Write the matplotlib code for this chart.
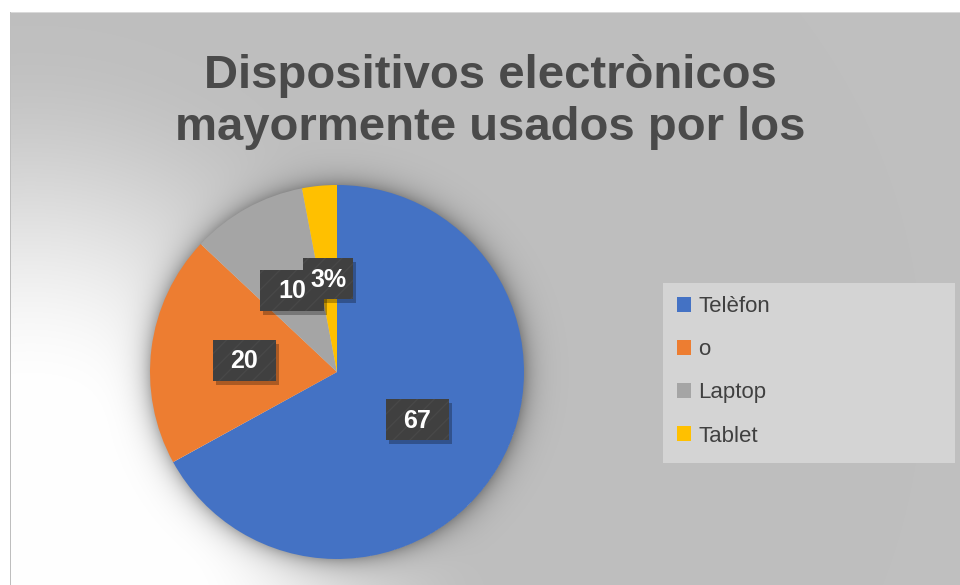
import numpy as np
import matplotlib.pyplot as plt
from matplotlib.patches import Rectangle

plt.rcParams['font.family'] = ['Liberation Sans', 'DejaVu Sans']

title = "Dispositivos electrònicos\nmayormente usados por los"
devices = ["Telèfon", "o", "Laptop", "Tablet"]
shares = [67, 20, 10, 3]
point_labels = ["67", "20", "10", "3%"]
colors = ["#4472C4", "#ED7D31", "#A5A5A5", "#FFC000"]

W, H = 960, 585
fig = plt.figure(figsize=(9.6, 5.85), dpi=100)

# background: gray chart area with a white glow at bottom-left + soft pie shadow
cx, cy, R = 337, 372, 187
yy, xx = np.mgrid[0:H, 0:W]
t = np.clip((np.hypot(xx - 30, (yy - 600) * 0.8) - 160) / 300, 0, 1)
t = t * t * (3 - 2 * t)
g = 255 - (255 - 191) * t
dp = np.hypot(xx - cx, yy - cy)
shade = np.where(dp > R - 1, 0.3 * np.exp(-np.clip(dp - R, 0, None) / 11), 0)
g = g * (1 - shade)
g[:13, :] = 255
g[:, :10] = 255
g[12, 10:] = 217
g[12:, 10] = 190
img = np.dstack([g, g, g]) / 255

bg = fig.add_axes([0, 0, 1, 1])
bg.imshow(img, extent=(0, W, H, 0), interpolation='bilinear', aspect='auto')
bg.set_xlim(0, W)
bg.set_ylim(H, 0)
bg.axis('off')

# legend panel
bg.add_patch(Rectangle((663, 283), 292, 180, facecolor='#d4d4d4', edgecolor='none'))

# pie
ax = fig.add_axes([(cx - R) / W, (H - cy - R) / H, 2 * R / W, 2 * R / H])
wedges, _ = ax.pie(shares, colors=colors, startangle=90, counterclock=False,
                   radius=1, wedgeprops=dict(linewidth=0))
ax.set_xlim(-1, 1)
ax.set_ylim(-1, 1)

fig.canvas.draw()
renderer = fig.canvas.get_renderer()
px = ax.transData.transform((1, 0))[0] - ax.transData.transform((0, 0))[0]

for w, lab, v in zip(wedges, point_labels, shares):
    ang = np.deg2rad((w.theta1 + w.theta2) / 2)
    x, y = 0.5 * np.cos(ang), 0.5 * np.sin(ang)
    # box is sized for the full "NN%" text, as in the original
    tmp = ax.text(0, 0, f"{v}%", fontsize=17, weight='bold')
    tw = tmp.get_window_extent(renderer).width
    tmp.remove()
    bw, bh = (tw + 16) / px, 41 / px
    ax.add_patch(Rectangle((x - bw / 2 + 3 / px, y - bh / 2 - 4 / px), bw, bh,
                           facecolor='black', alpha=0.28, edgecolor='none', zorder=3))
    ax.add_patch(Rectangle((x - bw / 2, y - bh / 2), bw, bh, facecolor='#404040',
                           edgecolor='#484848', hatch='//', linewidth=0, zorder=4))
    ax.text(x, y - 1 / px, lab, fontsize=18, weight='bold', color='white',
            ha='center', va='center', zorder=5)

fig.text(490 / W, 1 - 102 / H, title, ha='center', va='center', fontsize=34,
         weight='bold', color='#4a4a4a', linespacing=1.25)

fig.legend(wedges, devices, loc='upper left', bbox_to_anchor=(657 / W, 1 - 276 / H),
           frameon=False, fontsize=16, handlelength=0.65, handleheight=0.65,
           handletextpad=0.3, labelspacing=1.0, labelcolor='#404040')

fig.savefig('out.png', dpi=100)
